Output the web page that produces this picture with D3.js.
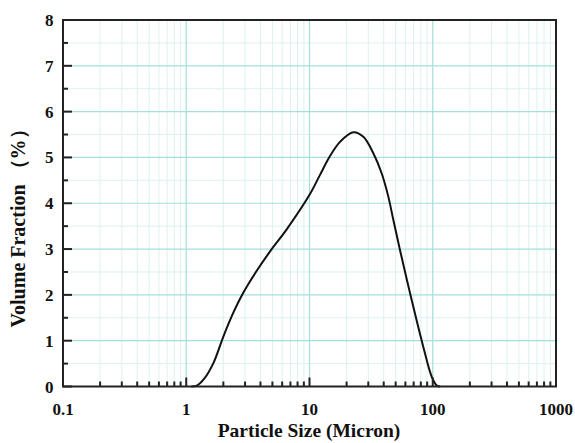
<!DOCTYPE html>
<html>
<head>
<meta charset="utf-8">
<script src="https://cdn.jsdelivr.net/npm/d3@7"></script>
<style>
  html, body { margin: 0; padding: 0; background: #fff; }
  svg { display: block; }
  text { font-family: "Liberation Serif", "DejaVu Serif", serif; font-weight: bold; fill: #111; }
</style>
</head>
<body>
<svg id="chart" width="575" height="443"></svg>
<script>
// Particle size distribution (volume %)
const sizes = [1.1, 1.22, 1.4, 1.66, 2.0, 2.4, 2.88, 3.72, 4.79, 6.53, 10.09, 12.17, 14.67, 17.68, 22.65, 27.35, 32.96, 38.55, 43.55, 47.86, 54.2, 67.45, 83.75, 98.2, 108, 114.8];
const fractions = [0, 0.02, 0.17, 0.51, 1.09, 1.6, 2.03, 2.52, 2.95, 3.43, 4.2, 4.62, 5.03, 5.34, 5.55, 5.45, 5.09, 4.65, 4.15, 3.64, 2.98, 1.89, 0.87, 0.21, 0.02, 0];

const xTickValues = [0.1, 1, 10, 100, 1000];
const xTickLabels = ["0.1", "1", "10", "100", "1000"];
const yTickValues = [0, 1, 2, 3, 4, 5, 6, 7, 8];

const svg = d3.select("#chart");
const margin = { left: 63, right: 19, top: 20, bottom: 56.5 };
const W = 575, H = 443;
const x = d3.scaleLog().domain([0.1, 1000]).range([margin.left, W - margin.right]);
const y = d3.scaleLinear().domain([0, 8]).range([H - margin.bottom, margin.top]);

const x0 = x.range()[0], x1 = x.range()[1];
const y0 = y.range()[0], y1 = y.range()[1];

// minor x positions: 2..9 within each decade
const xMinor = [];
[0.1, 1, 10, 100].forEach(d => { for (let k = 2; k <= 9; k++) xMinor.push(d * k); });
const yMinor = d3.range(0.5, 8, 1);

const grid = svg.append("g");
grid.selectAll(".gxm").data(xMinor).enter().append("line")
  .attr("x1", d => x(d)).attr("x2", d => x(d)).attr("y1", y0).attr("y2", y1)
  .attr("stroke", "#dcf2ef").attr("stroke-width", 1);
grid.selectAll(".gym").data(yMinor).enter().append("line")
  .attr("x1", x0).attr("x2", x1).attr("y1", d => y(d)).attr("y2", d => y(d))
  .attr("stroke", "#dcf2ef").attr("stroke-width", 1);
grid.selectAll(".gx").data([1, 10, 100]).enter().append("line")
  .attr("x1", d => x(d)).attr("x2", d => x(d)).attr("y1", y0).attr("y2", y1)
  .attr("stroke", "#a4e0d9").attr("stroke-width", 1.2);
grid.selectAll(".gy").data(d3.range(1, 8)).enter().append("line")
  .attr("x1", x0).attr("x2", x1).attr("y1", d => y(d)).attr("y2", d => y(d))
  .attr("stroke", "#a4e0d9").attr("stroke-width", 1.2);

// distribution curve
const pts = sizes.map((s, i) => [s, fractions[i]]);
const line = d3.line().x(d => x(d[0])).y(d => y(d[1]))
  .curve(d3.curveCatmullRom.alpha(0.5));
svg.append("path").datum(pts).attr("d", line)
  .attr("fill", "none").attr("stroke", "#111").attr("stroke-width", 2);

// inward ticks
const ticks = svg.append("g").attr("stroke", "#222").attr("stroke-width", 2);
ticks.selectAll(".xt").data(xTickValues).enter().append("line")
  .attr("x1", d => x(d)).attr("x2", d => x(d)).attr("y1", y0).attr("y2", y0 - 9);
ticks.selectAll(".xtm").data(xMinor).enter().append("line")
  .attr("x1", d => x(d)).attr("x2", d => x(d)).attr("y1", y0).attr("y2", y0 - 5);
ticks.selectAll(".yt").data(yTickValues).enter().append("line")
  .attr("x1", x0).attr("x2", x0 + 9).attr("y1", d => y(d)).attr("y2", d => y(d));
ticks.selectAll(".ytm").data(yMinor).enter().append("line")
  .attr("x1", x0).attr("x2", x0 + 5).attr("y1", d => y(d)).attr("y2", d => y(d));

// frame
svg.append("rect").attr("x", x0).attr("y", y1).attr("width", x1 - x0).attr("height", y0 - y1)
  .attr("fill", "none").attr("stroke", "#222").attr("stroke-width", 2);

// tick labels
svg.selectAll(".xl").data(xTickValues).enter().append("text")
  .attr("x", d => x(d)).attr("y", y0 + 28.5)
  .attr("text-anchor", "middle").attr("font-size", 17)
  .text((d, i) => xTickLabels[i]);
svg.selectAll(".yl").data(yTickValues).enter().append("text")
  .attr("x", x0 - 9.5).attr("y", d => y(d) + 6)
  .attr("text-anchor", "end").attr("font-size", 17)
  .text(d => d);

// axis titles
svg.append("text").attr("x", 309).attr("y", 437)
  .attr("text-anchor", "middle").attr("font-size", 19.5)
  .text("Particle Size (Micron)");
svg.append("text").attr("transform", "translate(25,223.5) rotate(-90)")
  .attr("text-anchor", "middle").attr("font-size", 20)
  .text("Volume Fraction （%）");
</script>
</body>
</html>
